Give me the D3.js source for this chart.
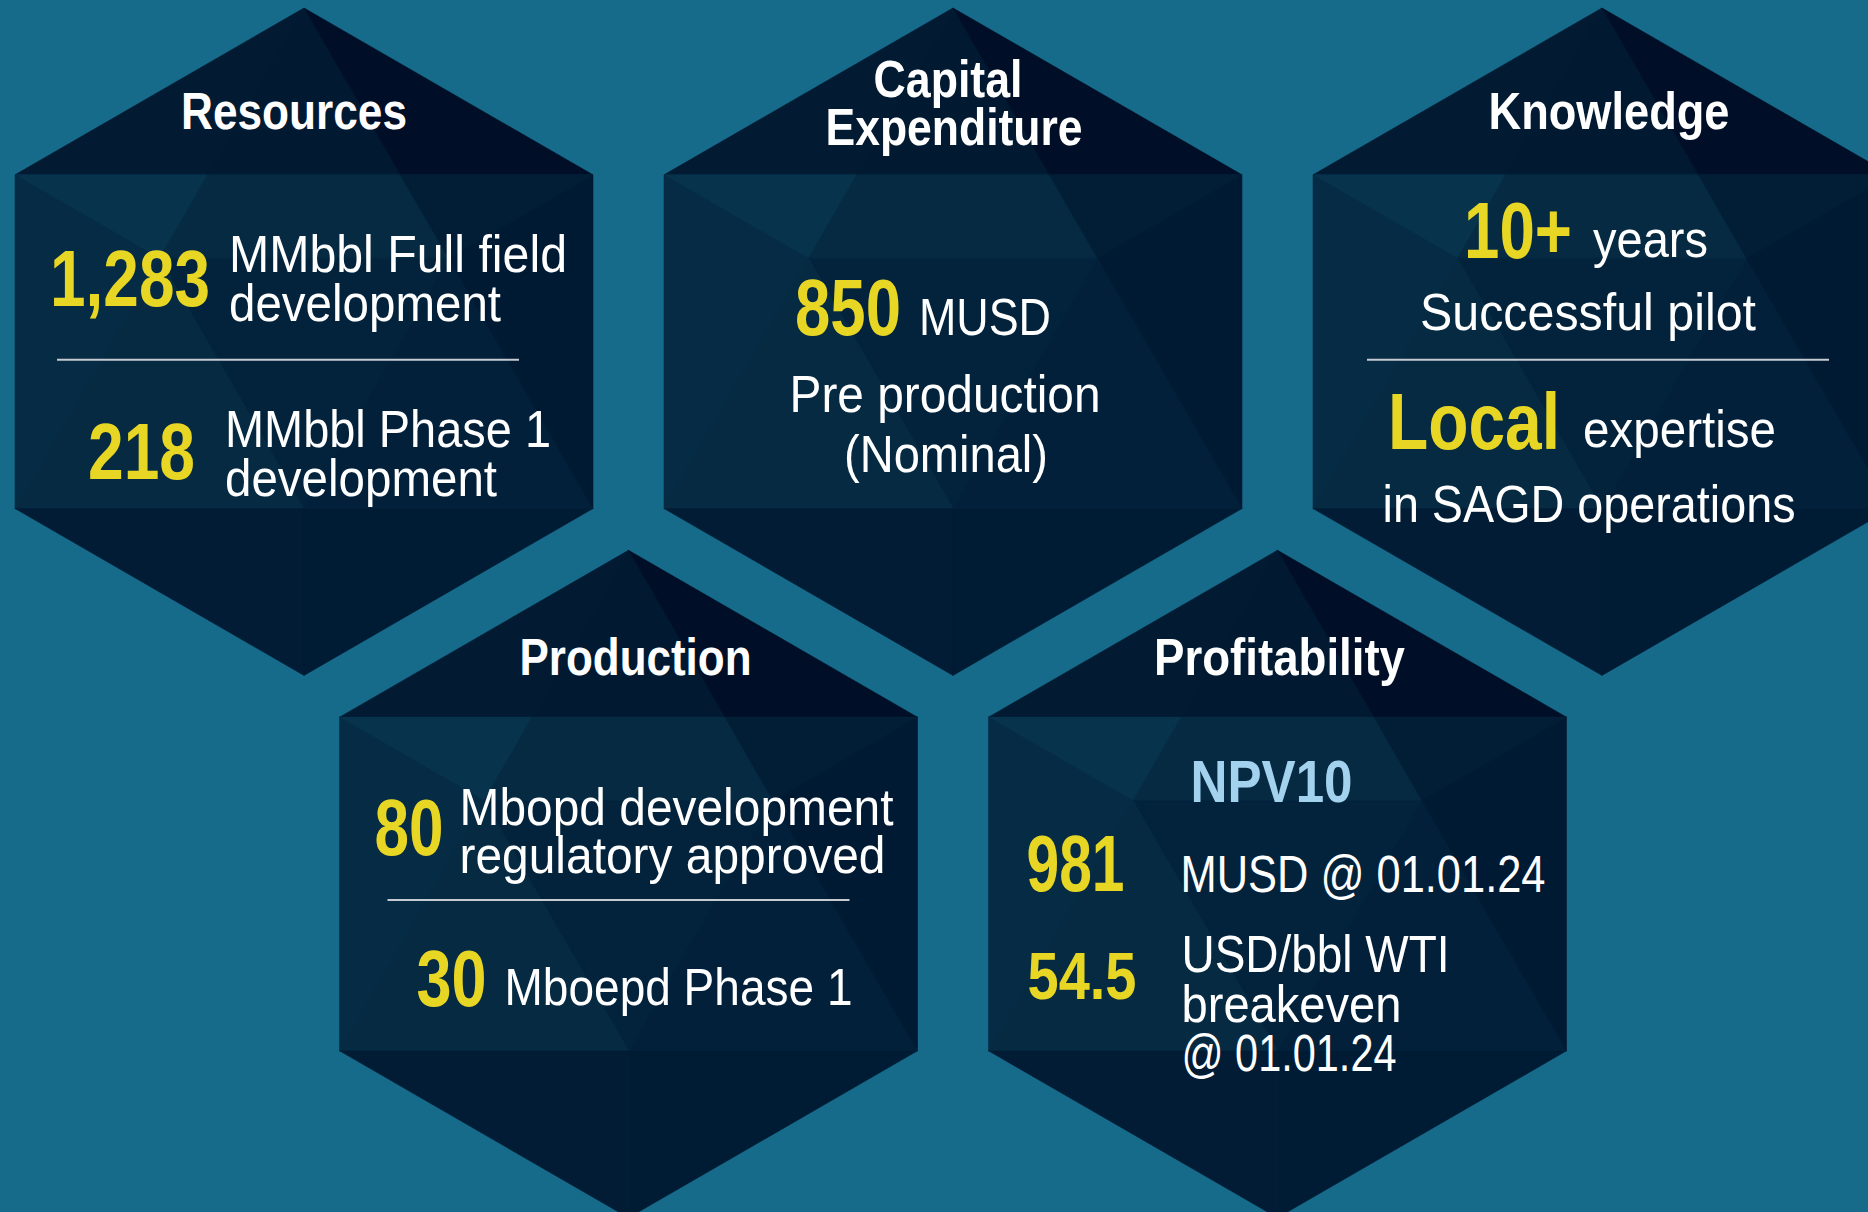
<!DOCTYPE html>
<html>
<head>
<meta charset="utf-8">
<script src="https://cdn.jsdelivr.net/npm/d3@7"></script>
<style>
    body { margin: 0; background: #176b8a; overflow: hidden; }
    text { font-family: "Liberation Sans Narrow", "Liberation Sans", "DejaVu Sans Condensed", sans-serif; }
</style>
</head>
<body>
<script>
// chart values
let titleLines = ['Resources', 'Capital', 'Expenditure', 'Knowledge', 'Production', 'Profitability'];
let figures = ['1,283', '218', '850', '10+', 'Local', '80', '30', '981', '54.5'];
let subheads = ['NPV10'];
let labels = [
    'MMbbl Full field', 'development', 'MMbbl Phase 1', 'development',
    'MUSD', 'Pre production', '(Nominal)',
    'years', 'Successful pilot', 'expertise', 'in SAGD operations',
    'Mbopd development', 'regulatory approved', 'Mboepd Phase 1',
    'MUSD @ 01.01.24', 'USD/bbl WTI', 'breakeven', '@ 01.01.24'
];

// hex grid: column, row
let hexGrid = [[0, 0], [1, 0], [2, 0], [0.5, 1], [1.5, 1]];

// facets of one hexagon, in unit coords (x by half width, y by radius)
let T = [0, -1], UR = [1, -0.5], LR = [1, 0.5], B = [0, 1], LL = [-1, 0.5], UL = [-1, -0.5];
let A = [-0.5, -0.25], Bp = [0.5, -0.25], P1 = [-1 / 3, -0.5], P2 = [1 / 3, -0.5], M = [0, 0.5];
let facets = [
    [[T, UL, P1], '#021b33'],
    [[T, P1, P2], '#011a31'],
    [[T, P2, UR], '#000f27'],
    [[UL, P1, A], '#07334c'],
    [[P1, P2, Bp, A], '#062a42'],
    [[P2, UR, Bp], '#021e36'],
    [[UL, A, LL], '#062b44'],
    [[A, Bp, M], '#03233c'],
    [[A, M, LL], '#052a41'],
    [[Bp, LR, M], '#02203a'],
    [[UR, LR, Bp], '#011a33'],
    [[LL, M, B], '#021c35'],
    [[M, LR, B], '#001b34']
];

// text layout: hex, style, index into source, dx, dy (baseline), width, anchor
let textLayout = [
    [0, 'title', 0, -10, -213, 226, 'middle'],
    [0, 'fig', 0, -254, -36, 160, 'start'],
    [0, 'label', 0, -75, -70, 338, 'start'],
    [0, 'label', 1, -75, -21, 272, 'start'],
    [0, 'fig', 1, -216, 137, 107, 'start'],
    [0, 'label', 2, -79, 105, 326, 'start'],
    [0, 'label', 3, -79, 154, 272, 'start'],

    [1, 'title', 1, -5, -245, 149, 'middle'],
    [1, 'title', 2, 1, -197, 257, 'middle'],
    [1, 'fig', 2, -158, -7, 106, 'start'],
    [1, 'label', 4, -34, -7, 132, 'start'],
    [1, 'label', 5, -8, 70, 311, 'middle'],
    [1, 'label', 6, -7, 130, 204, 'middle'],

    [2, 'title', 3, 7, -213, 241, 'middle'],
    [2, 'fig', 3, -138, -84, 108, 'start'],
    [2, 'label', 7, -9, -85, 115, 'start'],
    [2, 'label', 8, -14, -12, 336, 'middle'],
    [2, 'fig', 4, -214, 107, 172, 'start'],
    [2, 'label', 9, -19, 105, 193, 'start'],
    [2, 'label', 10, -13, 180, 413, 'middle'],

    [3, 'title', 4, 7, -209, 232, 'middle'],
    [3, 'fig', 5, -254, -29, 69, 'start'],
    [3, 'label', 11, -169, -59, 434, 'start'],
    [3, 'label', 12, -169, -11, 426, 'start'],
    [3, 'fig', 6, -212, 122, 70, 'start'],
    [3, 'label', 13, -124, 121, 348, 'start'],

    [4, 'title', 5, 2, -209, 251, 'middle'],
    [4, 'sub', 0, -87, -82, 162, 'start'],
    [4, 'fig', 7, -251, 7, 98, 'start'],
    [4, 'label', 14, -97, 8, 365, 'start'],
    [4, 'figSmall', 8, -250, 115, 109, 'start'],
    [4, 'label', 15, -96, 88, 268, 'start'],
    [4, 'label', 16, -96, 138, 220, 'start'],
    [4, 'label', 17, -96, 187, 215, 'start']
];

// dividers: hex, dx1, dx2, dy
let dividers = [[0, -247, 215, 18], [2, -235, 227, 18], [3, -241, 221, 16]];

let sources = { title: titleLines, fig: figures, figSmall: figures, label: labels, sub: subheads };
let styles = {
    title: { size: 52, weight: 700, fill: '#ffffff' },
    fig: { size: 80, weight: 700, fill: '#e8d625' },
    figSmall: { size: 67, weight: 700, fill: '#e8d625' },
    label: { size: 52, weight: 400, fill: '#ffffff' },
    sub: { size: 60, weight: 700, fill: '#a3d2ef' }
};

function init() {
    let width = 1868;
    let height = 1212;
    let halfWidth = 289;
    let radius = 333.7;

    let svg = d3.select('body').append('svg')
        .attr('width', width)
        .attr('height', height);
    svg.append('rect')
        .attr('width', width)
        .attr('height', height)
        .attr('fill', '#176b8a');

    let colScale = d3.scaleLinear().domain([0, 2]).range([304, 1602]);
    let rowScale = d3.scaleLinear().domain([0, 1]).range([341.7, 884]);
    let ux = d3.scaleLinear().domain([-1, 1]).range([-halfWidth, halfWidth]);
    let uy = d3.scaleLinear().domain([-1, 1]).range([-radius, radius]);
    let facetLine = d3.line().x(d => ux(d[0])).y(d => uy(d[1]));

    let hexes = svg.selectAll('g.hex').data(hexGrid).join('g')
        .attr('class', 'hex')
        .attr('transform', d => `translate(${colScale(d[0])}, ${rowScale(d[1])})`);

    hexes.selectAll('path').data(facets).join('path')
        .attr('d', d => facetLine(d[0]) + 'Z')
        .attr('fill', d => d[1])
        .attr('stroke', d => d[1])
        .attr('stroke-width', 0.6);

    // dividers and texts
    hexes.each(function (h, i) {
        let g = d3.select(this);
        g.selectAll('line').data(dividers.filter(d => d[0] === i)).join('line')
            .attr('x1', d => d[1])
            .attr('x2', d => d[2])
            .attr('y1', d => d[3])
            .attr('y2', d => d[3])
            .attr('stroke', '#c6cbd2')
            .attr('stroke-width', 2);

        g.selectAll('text').data(textLayout.filter(d => d[0] === i)).join('text')
            .attr('x', d => d[3])
            .attr('y', d => d[4])
            .attr('text-anchor', d => d[6])
            .attr('textLength', d => d[5])
            .attr('lengthAdjust', 'spacingAndGlyphs')
            .style('font-size', d => styles[d[1]].size + 'px')
            .style('font-weight', d => styles[d[1]].weight)
            .style('fill', d => styles[d[1]].fill)
            .text(d => sources[d[1]][d[2]]);
    });
}

init();
</script>
</body>
</html>
